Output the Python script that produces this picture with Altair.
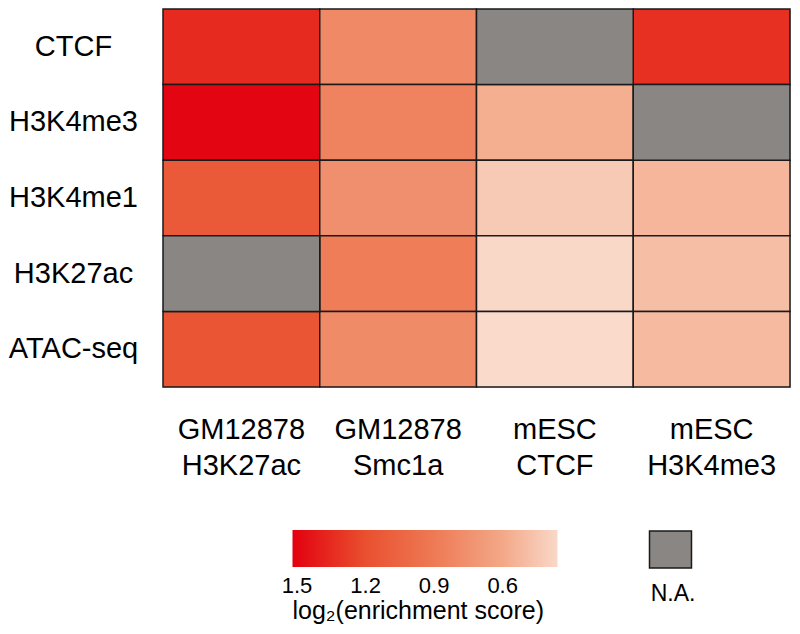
import altair as alt
import pandas as pd

# ---- data ----
rows = ["CTCF", "H3K4me3", "H3K4me1", "H3K27ac", "ATAC-seq"]
cols = ["GM12878 H3K27ac", "GM12878 Smc1a", "mESC CTCF", "mESC H3K4me3"]

# log2(enrichment score) per column, in row order (None = N.A.)
gm12878_h3k27ac = [1.35, 1.50, 1.13, None, 1.16]
gm12878_smc1a = [0.80, 0.84, 0.76, 0.88, 0.79]
mesc_ctcf = [None, 0.57, 0.43, 0.36, 0.35]
mesc_h3k4me3 = [1.33, None, 0.53, 0.49, 0.51]

legend_ticks = [1.5, 1.2, 0.9, 0.6]
scale_stops = [1.52, 1.2, 0.9, 0.6, 0.36]
scale_colors = ["#e3000f", "#e9502f", "#ee7a55", "#f3a888", "#f9d8c8"]
na_color = "#8a8683"
FONT = "Liberation Sans"

records = []
for col, vals in zip(cols, [gm12878_h3k27ac, gm12878_smc1a, mesc_ctcf, mesc_h3k4me3]):
    for r, v in zip(rows, vals):
        records.append({"row": r, "col": col, "score": v})
df = pd.DataFrame(records)

x_enc = alt.X(
    "col:N", sort=cols,
    scale=alt.Scale(paddingInner=0, paddingOuter=0),
    axis=alt.Axis(
        orient="bottom", title=None, labelAngle=0,
        labelExpr="split(datum.label, ' ')",
        labelFont=FONT, labelFontSize=29, labelColor="black",
        labelBaseline="alphabetic", labelLineHeight=36, labelPadding=51,
        domain=False, ticks=False, tickSize=0, grid=False, labelOverlap=False,
    ),
)
y_enc = alt.Y(
    "row:N", sort=rows,
    scale=alt.Scale(paddingInner=0, paddingOuter=0),
    axis=alt.Axis(
        title=None, labelFont=FONT, labelFontSize=29, labelColor="black",
        labelAlign="center", labelBaseline="middle", labelPadding=90,
        domain=False, ticks=False, tickSize=0, grid=False, labelOverlap=False,
    ),
)

base = alt.Chart(df).encode(x=x_enc, y=y_enc)

valid = base.transform_filter("isValid(datum.score)").transform_calculate(
    neg="-datum.score"
).mark_rect(stroke="#1a1a1a", strokeWidth=1.5).encode(
    color=alt.Color(
        "neg:Q",
        scale=alt.Scale(domain=[-s for s in scale_stops], range=scale_colors, interpolate="rgb"),
        legend=alt.Legend(
            orient="none", legendX=129.5, legendY=521, direction="horizontal",
            gradientLength=265, gradientThickness=37, gradientStrokeWidth=0,
            values=[-v for v in legend_ticks],
            labelExpr="format(-datum.value, '.1f')",
            labelFont=FONT, labelFontSize=22, labelColor="black",
            labelOffset=9, labelAlign="center", labelOverlap=False,
            title="log₂(enrichment score)", titleOrient="bottom",
            titleFont=FONT, titleFontSize=25, titleFontWeight="normal",
            titleColor="black", titleAnchor="start", titlePadding=2, titleLimit=400,
        ),
    )
)

na = base.transform_filter("!isValid(datum.score)").transform_calculate(
    na="'N.A.'"
).mark_rect(stroke="#1a1a1a", strokeWidth=1.5).encode(
    color=alt.Color(
        "na:N",
        scale=alt.Scale(range=[na_color]),
        legend=alt.Legend(
            orient="none", legendX=488, legendY=521,
            symbolType="M-1.135,-1L1.135,-1L1.135,1L-1.135,1Z",
            symbolSize=1369, symbolStrokeColor="#1a1a1a", symbolStrokeWidth=1.5,
            symbolFillColor=na_color, symbolOpacity=1,
            labelExpr="''", labelOffset=0,
            title="N.A.", titleOrient="bottom", titleAnchor="middle",
            titleFont=FONT, titleFontSize=23, titleFontWeight="normal",
            titleColor="black", titlePadding=12,
        ),
    )
)

chart = alt.layer(valid, na).resolve_scale(color="independent").properties(
    width=627, height=378, padding=0
).configure_view(strokeWidth=0).configure(background="white")

chart.save("out.html", embed_options={"renderer": "svg", "actions": False})
